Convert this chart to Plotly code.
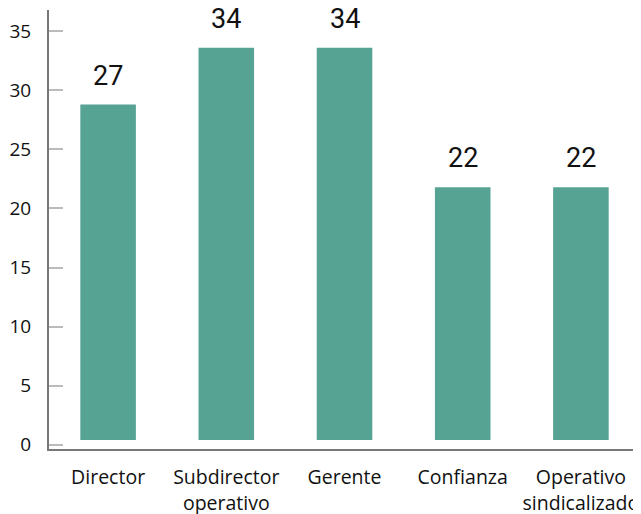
import plotly.graph_objects as go

categories = ["Director", "Subdirector<br>operativo", "Gerente", "Confianza", "Operativo<br>sindicalizado"]
bar_heights = [28.8, 33.6, 33.6, 21.8, 21.8]
value_labels = ["27", "34", "34", "22", "22"]
bar_base = 0.4
y_ticks = [0, 5, 10, 15, 20, 25, 30, 35]

fig = go.Figure()
fig.add_trace(go.Bar(
    x=categories,
    y=[h - bar_base for h in bar_heights],
    base=bar_base,
    marker=dict(color="#56a394", line=dict(width=0)),
    hoverinfo="skip",
))

for c, h, t in zip(categories, bar_heights, value_labels):
    fig.add_annotation(x=c, y=h, text=t, showarrow=False, yanchor="bottom",
                       yshift=11, font=dict(size=27, color="#111", family="Roboto"))

# page body has an 8px margin, so the figure is sized/margined to compensate
fig.update_layout(
    width=633, height=506,
    margin=dict(l=41, r=1, t=2, b=65),
    plot_bgcolor="white", paper_bgcolor="white",
    bargap=0.53,
    showlegend=False,
    font=dict(family="Open Sans", color="#111"),
)
fig.update_xaxes(
    automargin=False,
    showline=True, linecolor="#777", linewidth=2,
    showgrid=False, ticks="", tickfont=dict(size=19.5, color="#111"),
    ticklabelstandoff=10,
)
fig.update_yaxes(
    automargin=False,
    range=[-0.36, 36.8], tickvals=y_ticks,
    showline=True, linecolor="#777", linewidth=2,
    showgrid=False, zeroline=False,
    ticks="inside", ticklen=14, tickcolor="#bbb", tickwidth=2,
    tickfont=dict(size=19, color="#111"), ticklabelstandoff=12,
)

fig.write_html("out.html")
